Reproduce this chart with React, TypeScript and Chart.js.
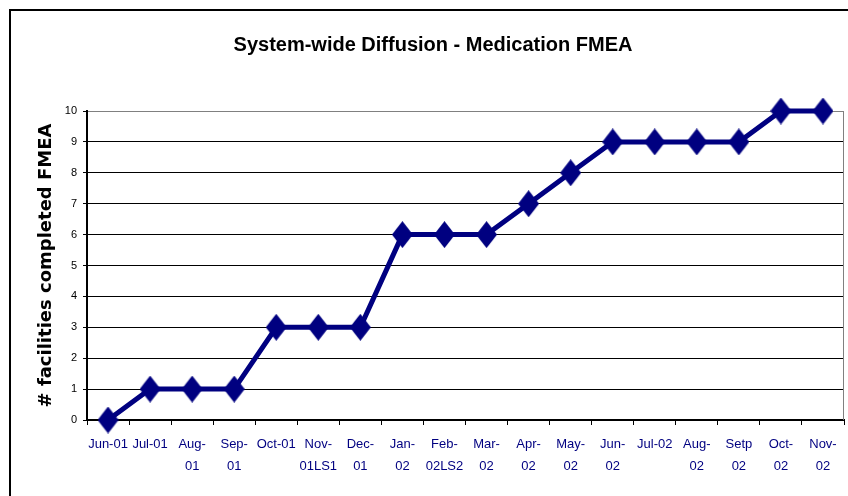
import React, { useEffect, useRef } from 'react';
import { Chart, registerables } from 'chart.js';

Chart.register(...registerables);

const chartTitle = 'System-wide Diffusion - Medication FMEA';
const yAxisTitle = '# facilities completed FMEA';

const categories: string[][] = [
  ['Jun-01'],
  ['Jul-01'],
  ['Aug-', '01'],
  ['Sep-', '01'],
  ['Oct-01'],
  ['Nov-', '01LS1'],
  ['Dec-', '01'],
  ['Jan-', '02'],
  ['Feb-', '02LS2'],
  ['Mar-', '02'],
  ['Apr-', '02'],
  ['May-', '02'],
  ['Jun-', '02'],
  ['Jul-02'],
  ['Aug-', '02'],
  ['Setp', '02'],
  ['Oct-', '02'],
  ['Nov-', '02'],
];

const facilitiesCompleted: number[] = [0, 1, 1, 1, 3, 3, 3, 6, 6, 6, 7, 8, 9, 9, 9, 9, 10, 10];

const yMin = 0;
const yMax = 10;
const yStep = 1;

const NAVY = '#000080';

function makeDiamond(w: number, h: number, color: string): HTMLCanvasElement {
  const c = document.createElement('canvas');
  c.width = w;
  c.height = h;
  const g = c.getContext('2d')!;
  g.fillStyle = color;
  g.beginPath();
  g.moveTo(w / 2, 0);
  g.lineTo(w, h / 2);
  g.lineTo(w / 2, h);
  g.lineTo(0, h / 2);
  g.closePath();
  g.fill();
  return c;
}

const framePlugin = {
  id: 'frame',
  beforeDraw(chart: any) {
    const { ctx, width, height } = chart;
    ctx.save();
    ctx.fillStyle = '#ffffff';
    ctx.fillRect(0, 0, width, height);
    ctx.strokeStyle = '#000000';
    ctx.lineWidth = 2;
    ctx.strokeRect(10, 10, width + 20, height + 20);
    ctx.restore();
  },
  beforeDatasetsDraw(chart: any) {
    const { ctx, chartArea } = chart;
    ctx.save();
    ctx.strokeStyle = '#808080';
    ctx.lineWidth = 1;
    ctx.beginPath();
    const x = Math.round(chartArea.right) - 0.5;
    ctx.moveTo(x, chartArea.top);
    ctx.lineTo(x, chartArea.bottom);
    ctx.stroke();
    ctx.restore();
  },
};

export default function App() {
  const canvasRef = useRef<HTMLCanvasElement | null>(null);

  useEffect(() => {
    if (!canvasRef.current) return;
    const diamond = makeDiamond(21, 27, NAVY);
    const chart = new Chart(canvasRef.current, {
      type: 'line',
      data: {
        labels: categories,
        datasets: [
          {
            data: facilitiesCompleted,
            borderColor: NAVY,
            backgroundColor: NAVY,
            borderWidth: 5,
            pointStyle: diamond as any,
            pointRadius: 10,
            pointHoverRadius: 10,
            tension: 0,
            clip: false as any,
          },
        ],
      },
      plugins: [framePlugin],
      options: {
        responsive: false,
        animation: false,
        events: [],
        layout: { autoPadding: false, padding: { left: 22, right: 4, top: 0, bottom: 0 } },
        plugins: {
          legend: { display: false },
          tooltip: { enabled: false },
          title: {
            display: true,
            text: chartTitle,
            color: '#000000',
            font: { family: 'Liberation Sans, Arial, sans-serif', size: 20, weight: 'bold' },
            padding: { top: 33, bottom: 54 },
          },
        },
        scales: {
          x: {
            type: 'category',
            offset: true,
            grid: {
              display: true,
              offset: true,
              drawOnChartArea: false,
              drawTicks: true,
              tickLength: 5,
              color: '#000000',
            },
            border: { display: true, color: '#000000', width: 2 },
            ticks: {
              autoSkip: false,
              maxRotation: 0,
              minRotation: 0,
              padding: 8,
              color: NAVY,
              font: { family: 'Liberation Sans, Arial, sans-serif', size: 13, lineHeight: 1.73 },
            },
            afterFit(scale: any) {
              scale.height = 76;
              scale.paddingLeft = 0;
              scale.paddingRight = 0;
            },
          },
          y: {
            min: yMin,
            max: yMax,
            grid: {
              color: (c: any) => (c.tick && c.tick.value === yMax ? '#808080' : '#000000'),
              tickColor: '#000000',
              lineWidth: 1,
              tickLength: 4,
            },
            border: { display: true, color: '#000000', width: 2 },
            ticks: {
              stepSize: yStep,
              padding: 6,
              color: '#000000',
              font: { family: 'Liberation Sans, Arial, sans-serif', size: 11 },
            },
            title: {
              display: true,
              text: yAxisTitle,
              color: '#000000',
              font: { family: 'DejaVu Sans, sans-serif', size: 18, weight: 'bold' },
              padding: { top: 14, bottom: 0 },
            },
            afterFit(scale: any) {
              scale.width = 65;
            },
          },
        },
      },
    });
    return () => chart.destroy();
  }, []);

  return (
    <div style={{ position: 'fixed', left: 0, top: 0, width: 848, height: 496, background: '#fff' }}>
      <canvas ref={canvasRef} width={848} height={496} style={{ display: 'block', width: 848, height: 496 }} />
    </div>
  );
}
